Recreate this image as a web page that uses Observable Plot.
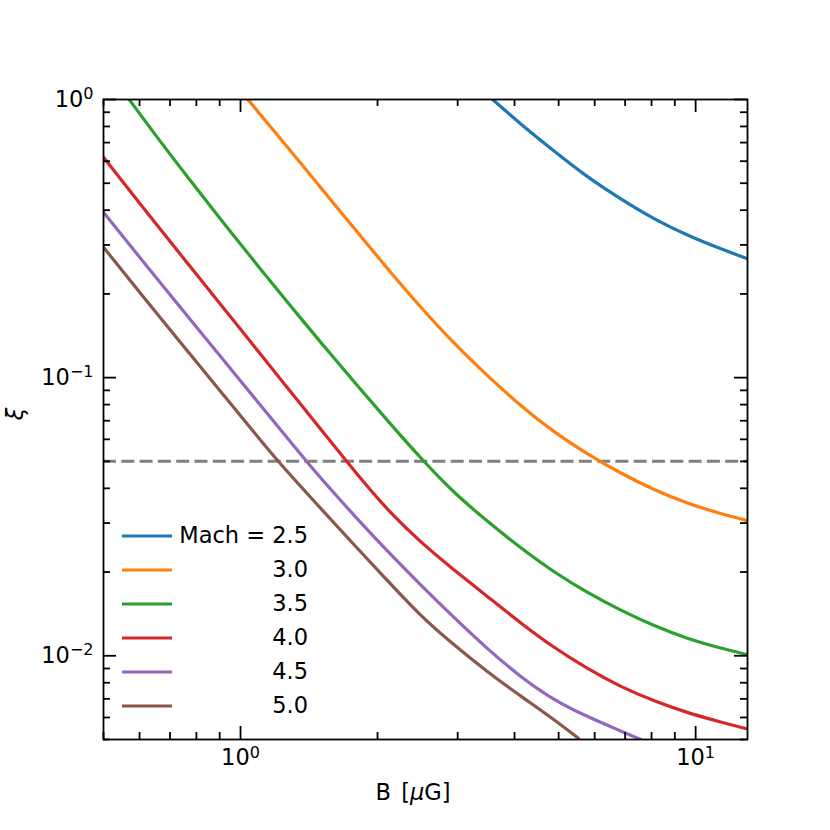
<!DOCTYPE html>
<html>
<head>
<meta charset="utf-8">
<script src="https://cdn.jsdelivr.net/npm/d3@7"></script>
<script src="https://cdn.jsdelivr.net/npm/@observablehq/plot@0.6"></script>
<style>
  body { margin: 0; background: #fff; }
  #chart svg { font-family: "DejaVu Sans", sans-serif; display: block; }
</style>
</head>
<body>
<div id="chart"></div>
<script>
// ---- data ----
const machLabels = ["2.5", "3.0", "3.5", "4.0", "4.5", "5.0"];
const machColors = ["#1f77b4", "#ff7f0e", "#2ca02c", "#d62728", "#9467bd", "#8c564b"];

const B_25  = [3.581, 4.117, 4.866, 5.782, 6.836, 8.08, 9.603, 11.35, 13.02];
const xi_25 = [1.0, 0.8178, 0.6557, 0.5254, 0.4394, 0.3723, 0.3242, 0.2904, 0.2673];

const B_30  = [1.0377, 1.282, 1.516, 1.801, 2.129, 2.479, 2.931, 3.483, 4.117, 4.866, 5.782, 6.836, 8.08, 9.603, 11.35, 13.02];
const xi_30 = [1.0, 0.6609, 0.4726, 0.3350, 0.2406, 0.1800, 0.1336, 0.1017, 0.0793, 0.06391, 0.05307, 0.04534, 0.03956, 0.03521, 0.03242, 0.03058];

const B_35  = [0.5695, 0.6531, 0.772, 0.9128, 1.0845, 1.282, 1.516, 1.801, 2.129, 2.479, 2.931, 3.483, 4.117, 4.866, 5.782, 6.836, 8.08, 9.603, 11.35, 13.02];
const xi_35 = [1.0, 0.7374, 0.5163, 0.3640, 0.2557, 0.1826, 0.1312, 0.0941, 0.0685, 0.0517, 0.03873, 0.03047, 0.02446, 0.02005, 0.01685, 0.01458, 0.01282, 0.01151, 0.01064, 0.01008];

const B_40  = [0.5, 0.6531, 0.772, 0.9128, 1.0845, 1.282, 1.516, 1.709, 1.923, 2.129, 2.479, 2.931, 3.483, 4.117, 4.866, 5.782, 6.836, 8.08, 9.603, 10.79, 13.02];
const xi_40 = [0.6202, 0.3557, 0.2529, 0.1798, 0.1264, 0.0899, 0.0639, 0.05, 0.03964, 0.03282, 0.02571, 0.02047, 0.01637, 0.01314, 0.01073, 0.00898, 0.007735, 0.006887, 0.006237, 0.005907, 0.005448];

const B_45  = [0.5, 0.6531, 0.772, 0.9128, 1.0845, 1.282, 1.396, 1.5704, 1.798, 2.129, 2.479, 2.931, 3.483, 4.117, 4.866, 5.782, 6.836, 7.566];
const xi_45 = [0.3932, 0.2282, 0.1633, 0.1168, 0.08279, 0.05924, 0.05, 0.04003, 0.03124, 0.02327, 0.01808, 0.01381, 0.0106, 0.008405, 0.006945, 0.006033, 0.005372, 0.005007];

const B_50  = [0.5, 0.6531, 0.772, 0.9128, 1.0845, 1.208, 1.516, 1.801, 2.129, 2.479, 2.931, 3.483, 4.117, 4.866, 5.525];
const xi_50 = [0.2942, 0.1708, 0.1223, 0.08751, 0.06201, 0.05, 0.03323, 0.02446, 0.01823, 0.01398, 0.011, 0.008758, 0.007178, 0.005933, 0.005049];

const xiThreshold = 0.05;

const xDomain = [0.5, 13];
const yDomain = [0.005, 1];
const xMajorTicks = [1, 10];
const xMinorTicks = [0.5, 0.6, 0.7, 0.8, 0.9, 2, 3, 4, 5, 6, 7, 8, 9];
const yMajorTicks = [0.01, 0.1, 1];
const yMinorTicks = [0.005, 0.006, 0.007, 0.008, 0.009, 0.02, 0.03, 0.04, 0.05, 0.06, 0.07, 0.08, 0.09,
                     0.2, 0.3, 0.4, 0.5, 0.6, 0.7, 0.8, 0.9];

const xLabelParts = [["B ", false, 0], ["[", false, 3], ["μ", true, 0], ["G]", false, 0]];
const yLabelText = "ξ";
const legendPrefix = "Mach = ";

// ---- build table ----
const seriesB  = [B_25, B_30, B_35, B_40, B_45, B_50];
const seriesXi = [xi_25, xi_30, xi_35, xi_40, xi_45, xi_50];
const table = [];
seriesB.forEach((bs, i) => bs.forEach((b, j) => table.push({mach: machLabels[i], B: b, xi: seriesXi[i][j]})));

// ---- layout ----
const W = 830, H = 830;
const mL = 103, mR = 83, mT = 99, mB = 91;
const pw = W - mL - mR, ph = H - mT - mB;
const majorLen = 13, minorLen = 7;
const axisW = 1.8;
const fs = 22.5;

function expFormat(d) {
  const e = Math.round(Math.log10(d));
  return "10|" + (e < 0 ? "\u2212" + (-e) : String(e));
}

const tickMarks = [];
for (const [vals, len] of [[xMajorTicks, majorLen], [xMinorTicks, minorLen]]) {
  tickMarks.push(Plot.tickX(vals, {x: d => d, insetTop: ph - len, stroke: "black", strokeWidth: axisW}));
  tickMarks.push(Plot.tickX(vals, {x: d => d, insetBottom: ph - len, stroke: "black", strokeWidth: axisW}));
}
for (const [vals, len] of [[yMajorTicks, majorLen], [yMinorTicks, minorLen]]) {
  tickMarks.push(Plot.tickY(vals, {y: d => d, insetRight: pw - len, stroke: "black", strokeWidth: axisW}));
  tickMarks.push(Plot.tickY(vals, {y: d => d, insetLeft: pw - len, stroke: "black", strokeWidth: axisW}));
}

const chart = Plot.plot({
  width: W, height: H,
  marginLeft: mL, marginRight: mR, marginTop: mT, marginBottom: mB,
  style: {fontFamily: "DejaVu Sans, sans-serif", background: "white", overflow: "visible"},
  x: {type: "log", domain: xDomain},
  y: {type: "log", domain: yDomain},
  color: {domain: machLabels, range: machColors},
  marks: [
    Plot.ruleY([xiThreshold], {stroke: "#808080", strokeWidth: 3, strokeDasharray: "13,5.3"}),
    Plot.line(table, {x: "B", y: "xi", z: "mach", stroke: "mach", strokeWidth: 3.2, curve: "basis", clip: true}),
    ...tickMarks,
    Plot.frame({stroke: "black", strokeWidth: axisW}),
    Plot.axisX(xMajorTicks, {anchor: "bottom", tickSize: 0, tickPadding: 10, tickFormat: expFormat, fontSize: fs, label: null, fill: "black"}),
    Plot.axisY(yMajorTicks, {anchor: "left", tickSize: 0, tickPadding: 10, tickFormat: expFormat, fontSize: fs, label: null, fill: "black"})
  ]
});

document.getElementById("chart").appendChild(chart);

// ---- superscript exponents ----
const NS = "http://www.w3.org/2000/svg";
chart.querySelectorAll('g[aria-label="x-axis tick label"] text, g[aria-label="y-axis tick label"] text').forEach(t => {
  const parts = t.textContent.split("|");
  if (parts.length !== 2) return;
  t.textContent = "";
  const a = document.createElementNS(NS, "tspan");
  a.textContent = parts[0];
  const b = document.createElementNS(NS, "tspan");
  b.setAttribute("dy", "-7.5");
  b.setAttribute("font-size", "16");
  b.textContent = parts[1];
  t.appendChild(a); t.appendChild(b);
});

// ---- axis labels ----
const svg = d3.select(chart);
const xl = svg.append("text")
  .attr("x", mL + pw / 2 - 12).attr("y", H - mB + 61)
  .attr("text-anchor", "middle").attr("font-size", fs)
  .style("white-space", "pre").attr("fill", "black");
xLabelParts.forEach(([s, it, dx]) => xl.append("tspan").text(s)
  .attr("font-style", it ? "italic" : null).attr("dx", dx || null));

svg.append("text")
  .attr("transform", `translate(22.5,${mT + ph / 2 - 5}) rotate(-90)`)
  .attr("text-anchor", "middle").attr("font-size", fs).attr("font-style", "italic")
  .attr("fill", "black").text(yLabelText);

// ---- legend ----
const legX = mL + 19, legY = mT + 437, legStep = 34, swatch = 50, textEnd = mL + 205;
const leg = svg.append("g");
machLabels.forEach((m, i) => {
  const y = legY + i * legStep;
  leg.append("line").attr("x1", legX).attr("x2", legX + swatch).attr("y1", y).attr("y2", y)
    .attr("stroke", machColors[i]).attr("stroke-width", 3.2);
  leg.append("text").attr("x", textEnd).attr("y", y).attr("dy", "0.3em")
    .attr("text-anchor", "end").attr("font-size", fs).attr("fill", "black")
    .text(i === 0 ? legendPrefix + m : m);
});
</script>
</body>
</html>
